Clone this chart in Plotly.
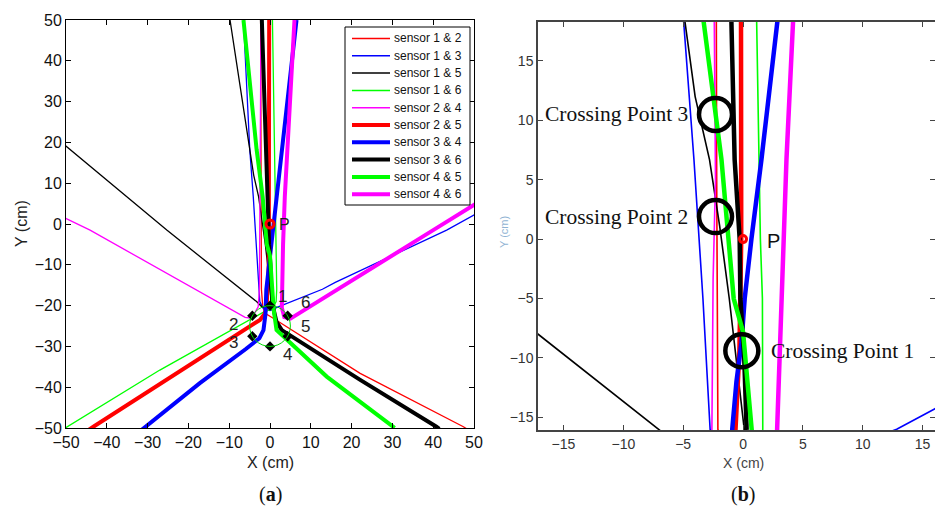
import plotly.graph_objects as go

W, H = 935, 510

# ---------------- data (cm) ----------------
NAMES = ["sensor 1 & 2", "sensor 1 & 3", "sensor 1 & 5", "sensor 1 & 6", "sensor 2 & 4",
         "sensor 2 & 5", "sensor 3 & 4", "sensor 3 & 6", "sensor 4 & 5", "sensor 4 & 6"]
COLORS = ["#ff0000", "#0000ff", "#000000", "#00ff00", "#ff00ff",
          "#ff0000", "#0000ff", "#000000", "#00ff00", "#ff00ff"]
THICK = [False, False, False, False, False, True, True, True, True, True]

S12_X = [-2.3, -2.25, -2.2, -2.15, -2.1, -1.8, -1.0, 0.8, 22.1, 47.4, 49.5]
S12_Y = [50, 18.3, 5, -5, -16, -20, -22, -23.1, -36.6, -49.7, -51]

S13_X = [-6.5, -4.96, -4.1, -3.35, -2.75, -2.5, -1.6, 0.0, 2.0, 12.84, 16.0, 43.3, 50.5]
S13_Y = [50, 18.3, 6.7, -5, -16, -19, -20.8, -21.2, -20.3, -16.0, -14.3, -1.5, 2.5]

S15_X = [-9.8, -4.85, -4.0, -2.8, -1.95, -1.15, 0.1, 0.2, -0.6, -2.0, -3.3, -25.3, -50.5]
S15_Y = [50, 18.3, 12, 6.7, 1.1, -5, -16, -19, -20.6, -20.3, -19, -1.5, 19.5]

S16_X = [0.6, 1.1, 1.34, 1.45, 1.62, 1.65, 1.5, 0.5, -1.6, -27, -50.5]
S16_Y = [50, 18.3, 6.7, 0, -5, -16, -19, -20.8, -21.6, -35.8, -50.2]

S24_X = [-2.2, -2.4, -2.3, -2.5, -2.6, -2.9, -4.5, -6.1, -44.1, -50.5]
S24_Y = [50, 18.3, 5, -3.4, -16, -20.3, -23.1, -22.9, -1.5, 1.6]

S25_X = [-0.2, -0.2, -0.15, -0.3, -0.4, -0.56, -0.8, -1.3, -2.45, -43.3, -44.5]
S25_Y = [50, 18.3, 0, -9.4, -12, -16, -19.5, -22, -23.5, -49.7, -50.5]

S34_X = [6.5, 2.93, 1.54, 0.7, 0.14, -0.13, -0.55, -0.9, -1.1, -1.6, -2.6, -6.0, -17.2, -30.6, -31.5]
S34_Y = [50, 18.3, 6.7, 0, -5, -8.7, -12, -16, -22, -26, -28, -30.7, -39, -49.7, -50.5]

S36_X = [-2.0, -0.97, -0.7, -0.28, -0.22, 0.1, 0.3, 0.9, 1.6, 2.9, 22.1, 40.8, 41.5]
S36_Y = [50, 18.3, 6.7, 0, -5, -10, -16, -21, -24, -26, -38.2, -49.7, -50.2]

S45_X = [-6.5, -3.29, -1.8, -0.78, 0.0, 0.7, 0.9, 1.6, 5.7, 13.9, 30.2, 30.5]
S45_Y = [50, 18.3, 6.7, -5, -7.8, -16, -21, -26, -29.7, -37.4, -49.7, -50]

S46_X = [6.0, 4.18, 3.63, 3.2, 2.85, 2.9, 3.5, 5.0, 40, 50.5]
S46_Y = [50, 18.3, 6.7, -5, -16, -20.5, -22.8, -23.2, -1.5, 5.0]

SENSOR_X = [0, -4.33, -4.33, 0, 4.33, 4.33]
SENSOR_Y = [-20, -22.5, -27.5, -30, -27.5, -22.5]
SENSOR_LABELS = ["1", "2", "3", "4", "5", "6"]
ARRAY_CENTER = [0, -25]
ARRAY_RADIUS = 5

P_X = [0]
P_Y = [0]

CROSS_X = [-0.1, -2.3, -2.3]
CROSS_Y = [-9.4, 1.9, 10.5]
CROSS_LABELS = ["Crossing Point 1", "Crossing Point 2", "Crossing Point 3"]

XA_TICKS = [-50, -40, -30, -20, -10, 0, 10, 20, 30, 40, 50]
XB_TICKS = [-15, -10, -5, 0, 5, 10, 15]
YB_TICKS = [-15, -10, -5, 0, 5, 10, 15]

CURVES_X = [S12_X, S13_X, S15_X, S16_X, S24_X, S25_X, S34_X, S36_X, S45_X, S46_X]
CURVES_Y = [S12_Y, S13_Y, S15_Y, S16_Y, S24_Y, S25_Y, S34_Y, S36_Y, S45_Y, S46_Y]

# ---------------- figure ----------------
def px_x(p):
    return p / W

def px_y(p):
    return 1 - p / H

SANS = "Arial, Liberation Sans"
SERIF = "Times New Roman, Liberation Serif"

fig = go.Figure()

for i in range(len(NAMES)):
    fig.add_trace(go.Scatter(
        x=CURVES_X[i], y=CURVES_Y[i], mode="lines", name=NAMES[i],
        line=dict(color=COLORS[i], width=4 if THICK[i] else 1.3),
        xaxis="x", yaxis="y", showlegend=False))

for i in range(len(NAMES)):
    fig.add_trace(go.Scatter(
        x=CURVES_X[i], y=CURVES_Y[i], mode="lines", name=NAMES[i],
        line=dict(color=COLORS[i], width=4.5 if THICK[i] else 1.6),
        xaxis="x2", yaxis="y2", showlegend=False))

# sensors
fig.add_trace(go.Scatter(x=SENSOR_X, y=SENSOR_Y, mode="markers",
                         marker=dict(symbol="diamond", size=8, color="black"),
                         xaxis="x", yaxis="y", showlegend=False))
# P markers
for ax, ay, sz, lw in (("x", "y", 8, 3), ("x2", "y2", 7, 3)):
    fig.add_trace(go.Scatter(x=P_X, y=P_Y, mode="markers",
                             marker=dict(symbol="circle-open", size=sz, color="#ff0000",
                                         line=dict(width=lw, color="#ff0000")),
                             xaxis=ax, yaxis=ay, showlegend=False))
# crossing circles
fig.add_trace(go.Scatter(x=CROSS_X, y=CROSS_Y, mode="markers",
                         marker=dict(symbol="circle-open", size=33, color="black",
                                     line=dict(width=4.5, color="black")),
                         xaxis="x2", yaxis="y2", showlegend=False))

shapes = []
# green circle through sensors
shapes.append(dict(type="circle", xref="x", yref="y",
                   x0=ARRAY_CENTER[0] - ARRAY_RADIUS, x1=ARRAY_CENTER[0] + ARRAY_RADIUS,
                   y0=ARRAY_CENTER[1] - ARRAY_RADIUS, y1=ARRAY_CENTER[1] + ARRAY_RADIUS,
                   line=dict(color="#00dd00", width=1)))

ann = []

# legend box (MATLAB-style, compact)
LEG_L, LEG_R, LEG_T, LEG_B = 345, 470, 27, 205
shapes.append(dict(type="rect", xref="paper", yref="paper",
                   x0=px_x(LEG_L), x1=px_x(LEG_R), y0=px_y(LEG_B), y1=px_y(LEG_T),
                   line=dict(color="black", width=1), fillcolor="white", layer="above"))
for i, name in enumerate(NAMES):
    yy = 38.5 + i * 17.3
    shapes.append(dict(type="line", xref="paper", yref="paper",
                       x0=px_x(352), x1=px_x(390), y0=px_y(yy), y1=px_y(yy),
                       line=dict(color=COLORS[i], width=4 if THICK[i] else 1.5), layer="above"))
    ann.append(dict(x=px_x(392), y=px_y(yy), xref="paper", yref="paper", text=name,
                    showarrow=False, xanchor="left", yanchor="middle",
                    font=dict(size=12, family=SANS, color="#111")))

# sensor labels (pixel offsets from each sensor)
lab_off = [(12, -9), (-19, 9), (-19, 6), (17, 8), (18, -10), (18, -13)]
for i, t in enumerate(SENSOR_LABELS):
    ann.append(dict(x=SENSOR_X[i], y=SENSOR_Y[i], xref="x", yref="y", text=t,
                    showarrow=True, arrowcolor="rgba(0,0,0,0)", ax=lab_off[i][0], ay=lab_off[i][1],
                    font=dict(size=17, family=SANS, color="#222")))
ann.append(dict(x=P_X[0], y=P_Y[0], xref="x", yref="y", text="P", showarrow=False,
                xanchor="left", yanchor="middle", xshift=7,
                font=dict(size=16, family=SANS, color="#222")))
ann.append(dict(x=P_X[0], y=P_Y[0], xref="x2", yref="y2", text="P", showarrow=False,
                xanchor="left", yanchor="middle", xshift=22, yshift=-2,
                font=dict(size=20, family=SANS, color="#111")))
# crossing labels
ann.append(dict(x=CROSS_X[0], y=CROSS_Y[0], xref="x2", yref="y2", text=CROSS_LABELS[0],
                showarrow=False, xanchor="left", yanchor="middle", xshift=27,
                font=dict(size=21.5, family=SERIF, color="#111")))
for k in (1, 2):
    ann.append(dict(x=CROSS_X[k], y=CROSS_Y[k], xref="x2", yref="y2", text=CROSS_LABELS[k],
                    showarrow=False, xanchor="right", yanchor="middle", xshift=-26,
                    font=dict(size=21.5, family=SERIF, color="#111")))
# axis titles and panel captions
ann.append(dict(x=px_x(270), y=px_y(462), xref="paper", yref="paper", text="X (cm)", showarrow=False,
                xanchor="center", yanchor="middle", font=dict(size=16, family=SANS, color="#222")))
ann.append(dict(x=px_x(21), y=px_y(224), xref="paper", yref="paper", text="Y (cm)", showarrow=False,
                xanchor="center", yanchor="middle", textangle=-90,
                font=dict(size=16, family=SANS, color="#222")))
ann.append(dict(x=px_x(743), y=px_y(463), xref="paper", yref="paper", text="X (cm)", showarrow=False,
                xanchor="center", yanchor="middle", font=dict(size=14, family=SANS, color="#444")))
ann.append(dict(x=px_x(504), y=px_y(232), xref="paper", yref="paper", text="Y (cm)", showarrow=False,
                xanchor="center", yanchor="middle", textangle=-90,
                font=dict(size=11, family=SANS, color="#8fb3d3")))
ann.append(dict(x=px_x(270), y=px_y(494), xref="paper", yref="paper", text="(<b>a</b>)", showarrow=False,
                xanchor="center", yanchor="middle", font=dict(size=20, family=SERIF, color="#111")))
ann.append(dict(x=px_x(743), y=px_y(494), xref="paper", yref="paper", text="(<b>b</b>)", showarrow=False,
                xanchor="center", yanchor="middle", font=dict(size=20, family=SERIF, color="#111")))

axis_a = dict(showline=True, linecolor="black", linewidth=1, mirror="ticks", ticks="inside",
              ticklen=5, tickcolor="black", showgrid=False, zeroline=False, automargin=False,
              tickfont=dict(size=16, family=SANS, color="#111"))
axis_b = dict(showline=True, linecolor="#444", linewidth=1.5, mirror="ticks", ticks="inside",
              ticklen=5, tickcolor="#444", showgrid=False, zeroline=False, automargin=False,
              tickfont=dict(size=14, family=SANS, color="#333"))

fig.update_layout(
    width=W, height=H, margin=dict(l=0, r=0, t=0, b=0, autoexpand=False),
    paper_bgcolor="white", plot_bgcolor="white",
    xaxis=dict(axis_a, domain=[px_x(66), px_x(474)], range=[-50, 50], tickvals=XA_TICKS, anchor="y"),
    yaxis=dict(axis_a, domain=[px_y(428), px_y(20)], range=[-50, 50], tickvals=XA_TICKS, anchor="x"),
    xaxis2=dict(axis_b, domain=[px_x(538), 1.0], range=[-17.13, 16.04], tickvals=XB_TICKS, anchor="y2"),
    yaxis2=dict(axis_b, domain=[px_y(430), px_y(22)], range=[-16.07, 18.28], tickvals=YB_TICKS, anchor="x2"),
    shapes=shapes,
    annotations=ann,
    showlegend=False,
)

fig.write_html("out.html")
